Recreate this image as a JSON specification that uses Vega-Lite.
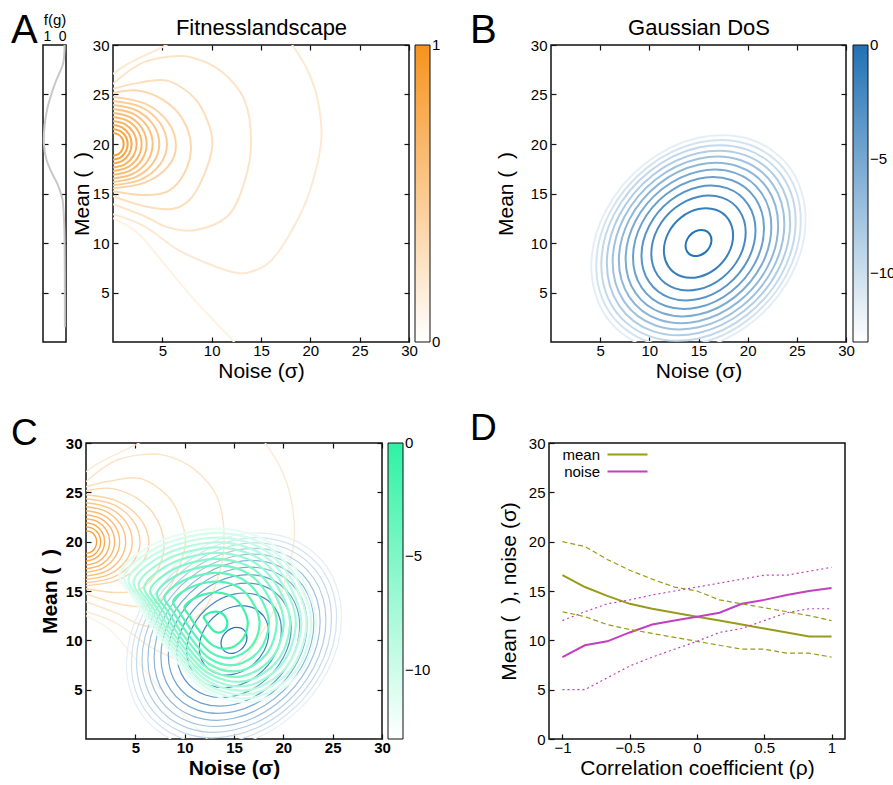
{
"$schema": "https://vega.github.io/schema/vega-lite/v6.json",
"background": "white",
"padding": {"left": 10, "top": 10, "right": 0, "bottom": 0},
"config": {
 "font": "Liberation Sans",
 "view": {"stroke": "#111", "strokeWidth": 1.5},
 "axis": {"grid": false, "domain": false, "tickColor": "#111", "tickSize": -5, "tickWidth": 1.2, "labelFontSize": 15, "labelColor": "#000", "labelPadding": 9, "labelFlush": false, "labelOverlap": false, "titleFontSize": 21, "titleFontWeight": "normal", "titleColor": "#000", "titlePadding": 4},
 "axisX": {"labelPadding": 6, "titlePadding": 2},
 "legend": {"gradientLength": 297, "gradientThickness": 15, "gradientStrokeColor": "#111", "gradientStrokeWidth": 1, "labelFontSize": 15, "labelColor": "#000", "labelOffset": 3, "offset": 5},
 "title": {"fontSize": 40, "fontWeight": "normal", "anchor": "start", "frame": "group", "baseline": "alphabetic", "offset": 0, "color": "#000"}
},
"datasets": {
 "fg": [{"g":1.5,"f":0.05},{"g":5,"f":0.05},{"g":10,"f":0.06},{"g":12,"f":0.08},{"g":13,"f":0.1},{"g":14,"f":0.13},{"g":14.6,"f":0.17},{"g":15.9,"f":0.36},{"g":17.2,"f":0.64},{"g":18.5,"f":0.86},{"g":20,"f":0.96},{"g":21.9,"f":0.93},{"g":23.6,"f":0.81},{"g":25,"f":0.64},{"g":26.4,"f":0.43},{"g":28,"f":0.14},{"g":29,"f":0.08},{"g":30,"f":0.06}],
 "fit": [
  {"c":"a1","l":0.88,"o":0,"s":0,"m":21.11},{"c":"a1","l":0.88,"o":1,"s":0.54,"m":20.96},{"c":"a1","l":0.88,"o":2,"s":0.935,"m":20.56},{"c":"a1","l":0.88,"o":3,"s":1.08,"m":20},{"c":"a1","l":0.88,"o":4,"s":0.935,"m":19.4},{"c":"a1","l":0.88,"o":5,"s":0.54,"m":18.97},{"c":"a1","l":0.88,"o":6,"s":0,"m":18.81},
  {"c":"a2","l":0.83,"o":0,"s":0,"m":21.51},{"c":"a2","l":0.83,"o":1,"s":0.745,"m":21.31},{"c":"a2","l":0.83,"o":2,"s":1.29,"m":20.76},{"c":"a2","l":0.83,"o":3,"s":1.49,"m":20},{"c":"a2","l":0.83,"o":4,"s":1.29,"m":19.21},{"c":"a2","l":0.83,"o":5,"s":0.745,"m":18.62},{"c":"a2","l":0.83,"o":6,"s":0,"m":18.41},
  {"c":"a3","l":0.78,"o":0,"s":0,"m":21.92},{"c":"a3","l":0.78,"o":1,"s":0.945,"m":21.66},{"c":"a3","l":0.78,"o":2,"s":1.637,"m":20.96},{"c":"a3","l":0.78,"o":3,"s":1.89,"m":20},{"c":"a3","l":0.78,"o":4,"s":1.637,"m":19.02},{"c":"a3","l":0.78,"o":5,"s":0.945,"m":18.3},{"c":"a3","l":0.78,"o":6,"s":0,"m":18.04},
  {"c":"a4","l":0.72,"o":0,"s":0,"m":22.32},{"c":"a4","l":0.72,"o":1,"s":1.2,"m":22.01},{"c":"a4","l":0.72,"o":2,"s":2.078,"m":21.16},{"c":"a4","l":0.72,"o":3,"s":2.4,"m":20},{"c":"a4","l":0.72,"o":4,"s":2.078,"m":18.82},{"c":"a4","l":0.72,"o":5,"s":1.2,"m":17.95},{"c":"a4","l":0.72,"o":6,"s":0,"m":17.63},
  {"c":"a5","l":0.67,"o":0,"s":0,"m":22.73},{"c":"a5","l":0.67,"o":1,"s":1.45,"m":22.36},{"c":"a5","l":0.67,"o":2,"s":2.511,"m":21.37},{"c":"a5","l":0.67,"o":3,"s":2.9,"m":20},{"c":"a5","l":0.67,"o":4,"s":2.511,"m":18.63},{"c":"a5","l":0.67,"o":5,"s":1.45,"m":17.63},{"c":"a5","l":0.67,"o":6,"s":0,"m":17.26},
  {"c":"a6","l":0.62,"o":0,"s":0,"m":23.13},{"c":"a6","l":0.62,"o":1,"s":1.705,"m":22.71},{"c":"a6","l":0.62,"o":2,"s":2.953,"m":21.57},{"c":"a6","l":0.62,"o":3,"s":3.41,"m":20},{"c":"a6","l":0.62,"o":4,"s":2.953,"m":18.45},{"c":"a6","l":0.62,"o":5,"s":1.705,"m":17.31},{"c":"a6","l":0.62,"o":6,"s":0,"m":16.89},
  {"c":"a7","l":0.57,"o":0,"s":0,"m":23.54},{"c":"a7","l":0.57,"o":1,"s":2.01,"m":23.07},{"c":"a7","l":0.57,"o":2,"s":3.481,"m":21.77},{"c":"a7","l":0.57,"o":3,"s":4.02,"m":20},{"c":"a7","l":0.57,"o":4,"s":3.481,"m":18.26},{"c":"a7","l":0.57,"o":5,"s":2.01,"m":16.98},{"c":"a7","l":0.57,"o":6,"s":0,"m":16.51},
  {"c":"a8","l":0.51,"o":0,"s":0,"m":23.94},{"c":"a8","l":0.51,"o":1,"s":2.345,"m":23.41},{"c":"a8","l":0.51,"o":2,"s":4.062,"m":21.97},{"c":"a8","l":0.51,"o":3,"s":4.69,"m":20},{"c":"a8","l":0.51,"o":4,"s":4.062,"m":18.09},{"c":"a8","l":0.51,"o":5,"s":2.345,"m":16.68},{"c":"a8","l":0.51,"o":6,"s":0,"m":16.17},
  {"c":"a9","l":0.46,"o":0,"s":0,"m":24.35},{"c":"a9","l":0.46,"o":1,"s":2.735,"m":23.77},{"c":"a9","l":0.46,"o":2,"s":4.737,"m":22.17},{"c":"a9","l":0.46,"o":3,"s":5.47,"m":19.95},{"c":"a9","l":0.46,"o":4,"s":4.737,"m":17.9},{"c":"a9","l":0.46,"o":5,"s":2.735,"m":16.38},{"c":"a9","l":0.46,"o":6,"s":0,"m":15.84},
  {"c":"a10","l":0.41,"o":0,"s":0,"m":24.76},{"c":"a10","l":0.41,"o":1,"s":3.19,"m":24.1},{"c":"a10","l":0.41,"o":2,"s":5.525,"m":22.28},{"c":"a10","l":0.41,"o":3,"s":6.38,"m":19.8},{"c":"a10","l":0.41,"o":4,"s":5.525,"m":17.67},{"c":"a10","l":0.41,"o":5,"s":3.19,"m":16.1},{"c":"a10","l":0.41,"o":6,"s":0,"m":15.53},
  {"c":"a11","l":0.36,"o":0,"s":0,"m":25.16},{"c":"a11","l":0.36,"o":1,"s":2.5,"m":25.4},{"c":"a11","l":0.36,"o":2,"s":5.0,"m":24.5},{"c":"a11","l":0.36,"o":3,"s":7.0,"m":22.6},{"c":"a11","l":0.36,"o":4,"s":7.9,"m":19.8},{"c":"a11","l":0.36,"o":5,"s":7.2,"m":17.0},{"c":"a11","l":0.36,"o":6,"s":5.5,"m":15.2},{"c":"a11","l":0.36,"o":7,"s":3.0,"m":14.85},{"c":"a11","l":0.36,"o":8,"s":0,"m":15.23},
  {"c":"a12","l":0.30,"o":0,"s":0,"m":25.57},{"c":"a12","l":0.30,"o":1,"s":2.5,"m":26.15},{"c":"a12","l":0.30,"o":2,"s":5.5,"m":26.4},{"c":"a12","l":0.30,"o":3,"s":8.3,"m":24.6},{"c":"a12","l":0.30,"o":4,"s":9.7,"m":22.0},{"c":"a12","l":0.30,"o":5,"s":10.05,"m":19.7},{"c":"a12","l":0.30,"o":6,"s":9.2,"m":16.8},{"c":"a12","l":0.30,"o":7,"s":7.8,"m":14.4},{"c":"a12","l":0.30,"o":8,"s":6.0,"m":13.44},{"c":"a12","l":0.30,"o":9,"s":3.2,"m":13.71},{"c":"a12","l":0.30,"o":10,"s":0,"m":14.72},
  {"c":"a13","l":0.25,"o":0,"s":0,"m":26.07},{"c":"a13","l":0.25,"o":1,"s":1.5,"m":27.3},{"c":"a13","l":0.25,"o":2,"s":3.2,"m":28.3},{"c":"a13","l":0.25,"o":3,"s":5.5,"m":28.8},{"c":"a13","l":0.25,"o":4,"s":7.9,"m":28.77},{"c":"a13","l":0.25,"o":5,"s":10.9,"m":27.4},{"c":"a13","l":0.25,"o":6,"s":13.3,"m":24.5},{"c":"a13","l":0.25,"o":7,"s":14.0,"m":20.2},{"c":"a13","l":0.25,"o":8,"s":13.3,"m":16.07},{"c":"a13","l":0.25,"o":9,"s":11.6,"m":12.7},{"c":"a13","l":0.25,"o":10,"s":8.24,"m":11.28},{"c":"a13","l":0.25,"o":11,"s":5.5,"m":11.6},{"c":"a13","l":0.25,"o":12,"s":3.2,"m":12.7},{"c":"a13","l":0.25,"o":13,"s":0,"m":13.91},
  {"c":"a14","l":0.20,"o":0,"s":0,"m":12.9},{"c":"a14","l":0.20,"o":1,"s":3.2,"m":11.68},{"c":"a14","l":0.20,"o":2,"s":6.55,"m":9.32},{"c":"a14","l":0.20,"o":3,"s":9.9,"m":7.8},{"c":"a14","l":0.20,"o":4,"s":12.6,"m":6.96},{"c":"a14","l":0.20,"o":5,"s":14.3,"m":7.2},{"c":"a14","l":0.20,"o":6,"s":16.1,"m":8.3},{"c":"a14","l":0.20,"o":7,"s":18.2,"m":11.4},{"c":"a14","l":0.20,"o":8,"s":19.9,"m":15.1},{"c":"a14","l":0.20,"o":9,"s":21.1,"m":20.2},{"c":"a14","l":0.20,"o":10,"s":20.8,"m":24.2},{"c":"a14","l":0.20,"o":11,"s":19.8,"m":27.3},{"c":"a14","l":0.20,"o":12,"s":18.2,"m":29.96},{"c":"a14","l":0.20,"o":13,"s":17.3,"m":31},
  {"c":"a14b","l":0.20,"o":0,"s":0,"m":27.08},{"c":"a14b","l":0.20,"o":1,"s":1.0,"m":27.8},{"c":"a14b","l":0.20,"o":2,"s":2.5,"m":28.6},{"c":"a14b","l":0.20,"o":3,"s":4.0,"m":29.3},{"c":"a14b","l":0.20,"o":4,"s":5.4,"m":30},{"c":"a14b","l":0.20,"o":5,"s":6.2,"m":30.5},
  {"c":"a15","l":0.12,"o":0,"s":0,"m":12.5},{"c":"a15","l":0.12,"o":1,"s":2.5,"m":11.0},{"c":"a15","l":0.12,"o":2,"s":4.86,"m":8.3},{"c":"a15","l":0.12,"o":3,"s":8.24,"m":4.25},{"c":"a15","l":0.12,"o":4,"s":11.95,"m":0.37},{"c":"a15","l":0.12,"o":5,"s":12.4,"m":-0.3}
 ],
 "dos": [
  {"c":0,"l":-0.2,"o":0,"s":16.32,"m":10.29},{"c":0,"l":-0.2,"o":1,"s":16.14,"m":10.9},{"c":0,"l":-0.2,"o":2,"s":15.66,"m":11.26},{"c":0,"l":-0.2,"o":3,"s":15,"m":11.29},{"c":0,"l":-0.2,"o":4,"s":14.34,"m":10.97},{"c":0,"l":-0.2,"o":5,"s":13.86,"m":10.39},{"c":0,"l":-0.2,"o":6,"s":13.68,"m":9.71},{"c":0,"l":-0.2,"o":7,"s":13.86,"m":9.1},{"c":0,"l":-0.2,"o":8,"s":14.34,"m":8.74},{"c":0,"l":-0.2,"o":9,"s":15,"m":8.71},{"c":0,"l":-0.2,"o":10,"s":15.66,"m":9.03},{"c":0,"l":-0.2,"o":11,"s":16.14,"m":9.61},
  {"c":1,"l":-1.23,"o":0,"s":18.52,"m":10.77},{"c":1,"l":-1.23,"o":1,"s":18.05,"m":12.39},{"c":1,"l":-1.23,"o":2,"s":16.76,"m":13.36},{"c":1,"l":-1.23,"o":3,"s":15,"m":13.43},{"c":1,"l":-1.23,"o":4,"s":13.24,"m":12.59},{"c":1,"l":-1.23,"o":5,"s":11.95,"m":11.05},{"c":1,"l":-1.23,"o":6,"s":11.48,"m":9.23},{"c":1,"l":-1.23,"o":7,"s":11.95,"m":7.61},{"c":1,"l":-1.23,"o":8,"s":13.24,"m":6.64},{"c":1,"l":-1.23,"o":9,"s":15,"m":6.57},{"c":1,"l":-1.23,"o":10,"s":16.76,"m":7.41},{"c":1,"l":-1.23,"o":11,"s":18.05,"m":8.95},
  {"c":2,"l":-2.26,"o":0,"s":19.8,"m":11.06},{"c":2,"l":-2.26,"o":1,"s":19.16,"m":13.26},{"c":2,"l":-2.26,"o":2,"s":17.4,"m":14.58},{"c":2,"l":-2.26,"o":3,"s":15,"m":14.68},{"c":2,"l":-2.26,"o":4,"s":12.6,"m":13.53},{"c":2,"l":-2.26,"o":5,"s":10.84,"m":11.43},{"c":2,"l":-2.26,"o":6,"s":10.2,"m":8.94},{"c":2,"l":-2.26,"o":7,"s":10.84,"m":6.74},{"c":2,"l":-2.26,"o":8,"s":12.6,"m":5.42},{"c":2,"l":-2.26,"o":9,"s":15,"m":5.32},{"c":2,"l":-2.26,"o":10,"s":17.4,"m":6.47},{"c":2,"l":-2.26,"o":11,"s":19.16,"m":8.57},
  {"c":3,"l":-3.29,"o":0,"s":20.8,"m":11.28},{"c":3,"l":-3.29,"o":1,"s":20.02,"m":13.93},{"c":3,"l":-3.29,"o":2,"s":17.9,"m":15.54},{"c":3,"l":-3.29,"o":3,"s":15,"m":15.66},{"c":3,"l":-3.29,"o":4,"s":12.1,"m":14.26},{"c":3,"l":-3.29,"o":5,"s":9.98,"m":11.72},{"c":3,"l":-3.29,"o":6,"s":9.2,"m":8.72},{"c":3,"l":-3.29,"o":7,"s":9.98,"m":6.07},{"c":3,"l":-3.29,"o":8,"s":12.1,"m":4.46},{"c":3,"l":-3.29,"o":9,"s":15,"m":4.34},{"c":3,"l":-3.29,"o":10,"s":17.9,"m":5.74},{"c":3,"l":-3.29,"o":11,"s":20.02,"m":8.28},
  {"c":4,"l":-4.32,"o":0,"s":21.66,"m":11.47},{"c":4,"l":-4.32,"o":1,"s":20.77,"m":14.52},{"c":4,"l":-4.32,"o":2,"s":18.33,"m":16.36},{"c":4,"l":-4.32,"o":3,"s":15,"m":16.5},{"c":4,"l":-4.32,"o":4,"s":11.67,"m":14.89},{"c":4,"l":-4.32,"o":5,"s":9.23,"m":11.98},{"c":4,"l":-4.32,"o":6,"s":8.34,"m":8.53},{"c":4,"l":-4.32,"o":7,"s":9.23,"m":5.48},{"c":4,"l":-4.32,"o":8,"s":11.67,"m":3.64},{"c":4,"l":-4.32,"o":9,"s":15,"m":3.5},{"c":4,"l":-4.32,"o":10,"s":18.33,"m":5.11},{"c":4,"l":-4.32,"o":11,"s":20.77,"m":8.02},
  {"c":5,"l":-5.35,"o":0,"s":22.41,"m":11.63},{"c":5,"l":-5.35,"o":1,"s":21.42,"m":15.03},{"c":5,"l":-5.35,"o":2,"s":18.71,"m":17.08},{"c":5,"l":-5.35,"o":3,"s":15,"m":17.23},{"c":5,"l":-5.35,"o":4,"s":11.3,"m":15.45},{"c":5,"l":-5.35,"o":5,"s":8.58,"m":12.2},{"c":5,"l":-5.35,"o":6,"s":7.59,"m":8.37},{"c":5,"l":-5.35,"o":7,"s":8.58,"m":4.97},{"c":5,"l":-5.35,"o":8,"s":11.3,"m":2.93},{"c":5,"l":-5.35,"o":9,"s":15,"m":2.77},{"c":5,"l":-5.35,"o":10,"s":18.71,"m":4.56},{"c":5,"l":-5.35,"o":11,"s":21.42,"m":7.8},
  {"c":6,"l":-6.38,"o":0,"s":23.1,"m":11.78},{"c":6,"l":-6.38,"o":1,"s":22.02,"m":15.49},{"c":6,"l":-6.38,"o":2,"s":19.05,"m":17.73},{"c":6,"l":-6.38,"o":3,"s":15,"m":17.9},{"c":6,"l":-6.38,"o":4,"s":10.95,"m":15.95},{"c":6,"l":-6.38,"o":5,"s":7.99,"m":12.41},{"c":6,"l":-6.38,"o":6,"s":6.9,"m":8.22},{"c":6,"l":-6.38,"o":7,"s":7.99,"m":4.51},{"c":6,"l":-6.38,"o":8,"s":10.95,"m":2.27},{"c":6,"l":-6.38,"o":9,"s":15,"m":2.1},{"c":6,"l":-6.38,"o":10,"s":19.05,"m":4.05},{"c":6,"l":-6.38,"o":11,"s":22.02,"m":7.59},
  {"c":7,"l":-7.41,"o":0,"s":23.73,"m":11.92},{"c":7,"l":-7.41,"o":1,"s":22.56,"m":15.92},{"c":7,"l":-7.41,"o":2,"s":19.37,"m":18.34},{"c":7,"l":-7.41,"o":3,"s":15,"m":18.52},{"c":7,"l":-7.41,"o":4,"s":10.64,"m":16.42},{"c":7,"l":-7.41,"o":5,"s":7.44,"m":12.6},{"c":7,"l":-7.41,"o":6,"s":6.27,"m":8.08},{"c":7,"l":-7.41,"o":7,"s":7.44,"m":4.08},{"c":7,"l":-7.41,"o":8,"s":10.64,"m":1.67},{"c":7,"l":-7.41,"o":9,"s":15,"m":1.48},{"c":7,"l":-7.41,"o":10,"s":19.37,"m":3.59},{"c":7,"l":-7.41,"o":11,"s":22.56,"m":7.41},
  {"c":8,"l":-8.44,"o":0,"s":24.32,"m":12.05},{"c":8,"l":-8.44,"o":1,"s":23.07,"m":16.32},{"c":8,"l":-8.44,"o":2,"s":19.66,"m":18.9},{"c":8,"l":-8.44,"o":3,"s":15,"m":19.09},{"c":8,"l":-8.44,"o":4,"s":10.34,"m":16.85},{"c":8,"l":-8.44,"o":5,"s":6.93,"m":12.77},{"c":8,"l":-8.44,"o":6,"s":5.68,"m":7.95},{"c":8,"l":-8.44,"o":7,"s":6.93,"m":3.68},{"c":8,"l":-8.44,"o":8,"s":10.34,"m":1.1},{"c":8,"l":-8.44,"o":9,"s":15,"m":0.91},{"c":8,"l":-8.44,"o":10,"s":19.66,"m":3.15},{"c":8,"l":-8.44,"o":11,"s":23.07,"m":7.23},
  {"c":9,"l":-9.47,"o":0,"s":24.88,"m":12.17},{"c":9,"l":-9.47,"o":1,"s":23.56,"m":16.7},{"c":9,"l":-9.47,"o":2,"s":19.94,"m":19.43},{"c":9,"l":-9.47,"o":3,"s":15,"m":19.64},{"c":9,"l":-9.47,"o":4,"s":10.06,"m":17.26},{"c":9,"l":-9.47,"o":5,"s":6.44,"m":12.94},{"c":9,"l":-9.47,"o":6,"s":5.12,"m":7.83},{"c":9,"l":-9.47,"o":7,"s":6.44,"m":3.3},{"c":9,"l":-9.47,"o":8,"s":10.06,"m":0.57},{"c":9,"l":-9.47,"o":9,"s":15,"m":0.36},{"c":9,"l":-9.47,"o":10,"s":19.94,"m":2.74},{"c":9,"l":-9.47,"o":11,"s":23.56,"m":7.06},
  {"c":10,"l":-10.5,"o":0,"s":25.4,"m":12.29},{"c":10,"l":-10.5,"o":1,"s":24.01,"m":17.05},{"c":10,"l":-10.5,"o":2,"s":20.2,"m":19.93},{"c":10,"l":-10.5,"o":3,"s":15,"m":20.15},{"c":10,"l":-10.5,"o":4,"s":9.8,"m":17.64},{"c":10,"l":-10.5,"o":5,"s":5.99,"m":13.09},{"c":10,"l":-10.5,"o":6,"s":4.6,"m":7.71},{"c":10,"l":-10.5,"o":7,"s":5.99,"m":2.95},{"c":10,"l":-10.5,"o":8,"s":9.8,"m":0.07},{"c":10,"l":-10.5,"o":9,"s":15,"m":-0.15},{"c":10,"l":-10.5,"o":10,"s":20.2,"m":2.36},{"c":10,"l":-10.5,"o":11,"s":24.01,"m":6.91},
  {"c":11,"l":-11.53,"o":0,"s":25.9,"m":12.4},{"c":11,"l":-11.53,"o":1,"s":24.44,"m":17.39},{"c":11,"l":-11.53,"o":2,"s":20.45,"m":20.41},{"c":11,"l":-11.53,"o":3,"s":15,"m":20.63},{"c":11,"l":-11.53,"o":4,"s":9.55,"m":18.01},{"c":11,"l":-11.53,"o":5,"s":5.56,"m":13.24},{"c":11,"l":-11.53,"o":6,"s":4.1,"m":7.6},{"c":11,"l":-11.53,"o":7,"s":5.56,"m":2.61},{"c":11,"l":-11.53,"o":8,"s":9.55,"m":-0.41},{"c":11,"l":-11.53,"o":9,"s":15,"m":-0.63},{"c":11,"l":-11.53,"o":10,"s":20.45,"m":1.99},{"c":11,"l":-11.53,"o":11,"s":24.44,"m":6.76}
 ],
 "post": [
  {"c":0,"l":-0.2,"o":0,"s":14.33,"m":11.72},{"c":0,"l":-0.2,"o":1,"s":14.18,"m":12.26},{"c":0,"l":-0.2,"o":2,"s":13.79,"m":12.72},{"c":0,"l":-0.2,"o":3,"s":13.21,"m":12.91},{"c":0,"l":-0.2,"o":4,"s":12.6,"m":12.82},{"c":0,"l":-0.2,"o":5,"s":12.16,"m":12.6},{"c":0,"l":-0.2,"o":6,"s":11.93,"m":12.34},{"c":0,"l":-0.2,"o":7,"s":12.12,"m":12.02},{"c":0,"l":-0.2,"o":8,"s":12.48,"m":11.48},{"c":0,"l":-0.2,"o":9,"s":12.97,"m":10.93},{"c":0,"l":-0.2,"o":10,"s":13.57,"m":10.79},{"c":0,"l":-0.2,"o":11,"s":14.12,"m":11.12},
  {"c":1,"l":-1.23,"o":0,"s":16.4,"m":11.67},{"c":1,"l":-1.23,"o":1,"s":15.97,"m":13.12},{"c":1,"l":-1.23,"o":2,"s":14.94,"m":14.35},{"c":1,"l":-1.23,"o":3,"s":13.39,"m":14.84},{"c":1,"l":-1.23,"o":4,"s":11.78,"m":14.61},{"c":1,"l":-1.23,"o":5,"s":10.58,"m":14.03},{"c":1,"l":-1.23,"o":6,"s":9.97,"m":13.32},{"c":1,"l":-1.23,"o":7,"s":10.48,"m":12.48},{"c":1,"l":-1.23,"o":8,"s":11.45,"m":11.02},{"c":1,"l":-1.23,"o":9,"s":12.74,"m":9.57},{"c":1,"l":-1.23,"o":10,"s":14.36,"m":9.18},{"c":1,"l":-1.23,"o":11,"s":15.81,"m":10.05},
  {"c":2,"l":-2.26,"o":0,"s":17.59,"m":11.64},{"c":2,"l":-2.26,"o":1,"s":17.02,"m":13.62},{"c":2,"l":-2.26,"o":2,"s":15.61,"m":15.29},{"c":2,"l":-2.26,"o":3,"s":13.5,"m":15.95},{"c":2,"l":-2.26,"o":4,"s":11.3,"m":15.64},{"c":2,"l":-2.26,"o":5,"s":9.67,"m":14.85},{"c":2,"l":-2.26,"o":6,"s":8.83,"m":13.88},{"c":2,"l":-2.26,"o":7,"s":9.54,"m":12.74},{"c":2,"l":-2.26,"o":8,"s":10.86,"m":10.76},{"c":2,"l":-2.26,"o":9,"s":12.62,"m":8.78},{"c":2,"l":-2.26,"o":10,"s":14.82,"m":8.25},{"c":2,"l":-2.26,"o":11,"s":16.8,"m":9.44},
  {"c":3,"l":-3.29,"o":0,"s":18.53,"m":11.62},{"c":3,"l":-3.29,"o":1,"s":17.84,"m":14.01},{"c":3,"l":-3.29,"o":2,"s":16.13,"m":16.03},{"c":3,"l":-3.29,"o":3,"s":13.58,"m":16.83},{"c":3,"l":-3.29,"o":4,"s":10.92,"m":16.46},{"c":3,"l":-3.29,"o":5,"s":8.95,"m":15.5},{"c":3,"l":-3.29,"o":6,"s":7.94,"m":14.33},{"c":3,"l":-3.29,"o":7,"s":8.79,"m":12.95},{"c":3,"l":-3.29,"o":8,"s":10.39,"m":10.55},{"c":3,"l":-3.29,"o":9,"s":12.52,"m":8.16},{"c":3,"l":-3.29,"o":10,"s":15.18,"m":7.52},{"c":3,"l":-3.29,"o":11,"s":17.57,"m":8.96},
  {"c":4,"l":-4.32,"o":0,"s":19.33,"m":11.6},{"c":4,"l":-4.32,"o":1,"s":18.54,"m":14.35},{"c":4,"l":-4.32,"o":2,"s":16.58,"m":16.67},{"c":4,"l":-4.32,"o":3,"s":13.65,"m":17.59},{"c":4,"l":-4.32,"o":4,"s":10.6,"m":17.16},{"c":4,"l":-4.32,"o":5,"s":8.33,"m":16.06},{"c":4,"l":-4.32,"o":6,"s":7.17,"m":14.71},{"c":4,"l":-4.32,"o":7,"s":8.15,"m":13.13},{"c":4,"l":-4.32,"o":8,"s":9.98,"m":10.38},{"c":4,"l":-4.32,"o":9,"s":12.43,"m":7.63},{"c":4,"l":-4.32,"o":10,"s":15.48,"m":6.89},{"c":4,"l":-4.32,"o":11,"s":18.23,"m":8.54},
  {"c":5,"l":-5.35,"o":0,"s":20.04,"m":11.58},{"c":5,"l":-5.35,"o":1,"s":19.15,"m":14.64},{"c":5,"l":-5.35,"o":2,"s":16.98,"m":17.22},{"c":5,"l":-5.35,"o":3,"s":13.71,"m":18.24},{"c":5,"l":-5.35,"o":4,"s":10.31,"m":17.77},{"c":5,"l":-5.35,"o":5,"s":7.8,"m":16.54},{"c":5,"l":-5.35,"o":6,"s":6.5,"m":15.05},{"c":5,"l":-5.35,"o":7,"s":7.59,"m":13.28},{"c":5,"l":-5.35,"o":8,"s":9.63,"m":10.22},{"c":5,"l":-5.35,"o":9,"s":12.35,"m":7.16},{"c":5,"l":-5.35,"o":10,"s":15.75,"m":6.34},{"c":5,"l":-5.35,"o":11,"s":18.81,"m":8.18},
  {"c":6,"l":-6.38,"o":0,"s":20.68,"m":11.56},{"c":6,"l":-6.38,"o":1,"s":19.71,"m":14.91},{"c":6,"l":-6.38,"o":2,"s":17.34,"m":17.73},{"c":6,"l":-6.38,"o":3,"s":13.77,"m":18.85},{"c":6,"l":-6.38,"o":4,"s":10.05,"m":18.33},{"c":6,"l":-6.38,"o":5,"s":7.31,"m":16.99},{"c":6,"l":-6.38,"o":6,"s":5.89,"m":15.35},{"c":6,"l":-6.38,"o":7,"s":7.08,"m":13.42},{"c":6,"l":-6.38,"o":8,"s":9.31,"m":10.08},{"c":6,"l":-6.38,"o":9,"s":12.28,"m":6.74},{"c":6,"l":-6.38,"o":10,"s":16.0,"m":5.84},{"c":6,"l":-6.38,"o":11,"s":19.34,"m":7.85},
  {"c":7,"l":-7.41,"o":0,"s":21.27,"m":11.55},{"c":7,"l":-7.41,"o":1,"s":20.23,"m":15.15},{"c":7,"l":-7.41,"o":2,"s":17.67,"m":18.2},{"c":7,"l":-7.41,"o":3,"s":13.82,"m":19.4},{"c":7,"l":-7.41,"o":4,"s":9.82,"m":18.84},{"c":7,"l":-7.41,"o":5,"s":6.85,"m":17.4},{"c":7,"l":-7.41,"o":6,"s":5.33,"m":15.64},{"c":7,"l":-7.41,"o":7,"s":6.61,"m":13.55},{"c":7,"l":-7.41,"o":8,"s":9.02,"m":9.95},{"c":7,"l":-7.41,"o":9,"s":12.22,"m":6.34},{"c":7,"l":-7.41,"o":10,"s":16.22,"m":5.38},{"c":7,"l":-7.41,"o":11,"s":19.83,"m":7.55},
  {"c":8,"l":-8.44,"o":0,"s":21.82,"m":11.54},{"c":8,"l":-8.44,"o":1,"s":20.71,"m":15.38},{"c":8,"l":-8.44,"o":2,"s":17.97,"m":18.63},{"c":8,"l":-8.44,"o":3,"s":13.87,"m":19.92},{"c":8,"l":-8.44,"o":4,"s":9.59,"m":19.32},{"c":8,"l":-8.44,"o":5,"s":6.43,"m":17.78},{"c":8,"l":-8.44,"o":6,"s":4.81,"m":15.9},{"c":8,"l":-8.44,"o":7,"s":6.17,"m":13.67},{"c":8,"l":-8.44,"o":8,"s":8.74,"m":9.83},{"c":8,"l":-8.44,"o":9,"s":12.16,"m":5.98},{"c":8,"l":-8.44,"o":10,"s":16.44,"m":4.95},{"c":8,"l":-8.44,"o":11,"s":20.28,"m":7.26},
  {"c":9,"l":-9.47,"o":0,"s":22.34,"m":11.52},{"c":9,"l":-9.47,"o":1,"s":21.16,"m":15.6},{"c":9,"l":-9.47,"o":2,"s":18.26,"m":19.04},{"c":9,"l":-9.47,"o":3,"s":13.92,"m":20.4},{"c":9,"l":-9.47,"o":4,"s":9.39,"m":19.77},{"c":9,"l":-9.47,"o":5,"s":6.03,"m":18.14},{"c":9,"l":-9.47,"o":6,"s":4.31,"m":16.14},{"c":9,"l":-9.47,"o":7,"s":5.76,"m":13.79},{"c":9,"l":-9.47,"o":8,"s":8.48,"m":9.71},{"c":9,"l":-9.47,"o":9,"s":12.1,"m":5.63},{"c":9,"l":-9.47,"o":10,"s":16.63,"m":4.55},{"c":9,"l":-9.47,"o":11,"s":20.71,"m":6.99},
  {"c":10,"l":-10.5,"o":0,"s":22.83,"m":11.51},{"c":10,"l":-10.5,"o":1,"s":21.59,"m":15.81},{"c":10,"l":-10.5,"o":2,"s":18.54,"m":19.43},{"c":10,"l":-10.5,"o":3,"s":13.96,"m":20.86},{"c":10,"l":-10.5,"o":4,"s":9.19,"m":20.19},{"c":10,"l":-10.5,"o":5,"s":5.66,"m":18.48},{"c":10,"l":-10.5,"o":6,"s":3.85,"m":16.38},{"c":10,"l":-10.5,"o":7,"s":5.37,"m":13.9},{"c":10,"l":-10.5,"o":8,"s":8.23,"m":9.6},{"c":10,"l":-10.5,"o":9,"s":12.05,"m":5.31},{"c":10,"l":-10.5,"o":10,"s":16.82,"m":4.17},{"c":10,"l":-10.5,"o":11,"s":21.11,"m":6.74},
  {"c":11,"l":-11.53,"o":0,"s":23.3,"m":11.5},{"c":11,"l":-11.53,"o":1,"s":22.0,"m":16.0},{"c":11,"l":-11.53,"o":2,"s":18.8,"m":19.8},{"c":11,"l":-11.53,"o":3,"s":14.0,"m":21.3},{"c":11,"l":-11.53,"o":4,"s":9.0,"m":20.6},{"c":11,"l":-11.53,"o":5,"s":5.3,"m":18.8},{"c":11,"l":-11.53,"o":6,"s":3.4,"m":16.6},{"c":11,"l":-11.53,"o":7,"s":5.0,"m":14.0},{"c":11,"l":-11.53,"o":8,"s":8.0,"m":9.5},{"c":11,"l":-11.53,"o":9,"s":12.0,"m":5.0},{"c":11,"l":-11.53,"o":10,"s":17.0,"m":3.8},{"c":11,"l":-11.53,"o":11,"s":21.5,"m":6.5}
 ],
 "dd": [
  {"r":-1,"v":16.6,"var":"mean","b":"mid"},{"r":-0.833,"v":15.4,"var":"mean","b":"mid"},{"r":-0.667,"v":14.5,"var":"mean","b":"mid"},{"r":-0.5,"v":13.7,"var":"mean","b":"mid"},{"r":-0.333,"v":13.2,"var":"mean","b":"mid"},{"r":-0.167,"v":12.8,"var":"mean","b":"mid"},{"r":0,"v":12.4,"var":"mean","b":"mid"},{"r":0.167,"v":12.0,"var":"mean","b":"mid"},{"r":0.333,"v":11.6,"var":"mean","b":"mid"},{"r":0.5,"v":11.2,"var":"mean","b":"mid"},{"r":0.667,"v":10.8,"var":"mean","b":"mid"},{"r":0.833,"v":10.4,"var":"mean","b":"mid"},{"r":1,"v":10.4,"var":"mean","b":"mid"},
  {"r":-1,"v":20.0,"var":"mean","b":"hi"},{"r":-0.833,"v":19.5,"var":"mean","b":"hi"},{"r":-0.667,"v":18.2,"var":"mean","b":"hi"},{"r":-0.5,"v":17.1,"var":"mean","b":"hi"},{"r":-0.333,"v":16.2,"var":"mean","b":"hi"},{"r":-0.167,"v":15.4,"var":"mean","b":"hi"},{"r":0,"v":15.0,"var":"mean","b":"hi"},{"r":0.167,"v":14.1,"var":"mean","b":"hi"},{"r":0.333,"v":13.7,"var":"mean","b":"hi"},{"r":0.5,"v":13.3,"var":"mean","b":"hi"},{"r":0.667,"v":12.9,"var":"mean","b":"hi"},{"r":0.833,"v":12.5,"var":"mean","b":"hi"},{"r":1,"v":12.0,"var":"mean","b":"hi"},
  {"r":-1,"v":12.9,"var":"mean","b":"lo"},{"r":-0.833,"v":12.4,"var":"mean","b":"lo"},{"r":-0.667,"v":11.6,"var":"mean","b":"lo"},{"r":-0.5,"v":11.1,"var":"mean","b":"lo"},{"r":-0.333,"v":10.7,"var":"mean","b":"lo"},{"r":-0.167,"v":10.3,"var":"mean","b":"lo"},{"r":0,"v":9.9,"var":"mean","b":"lo"},{"r":0.167,"v":9.5,"var":"mean","b":"lo"},{"r":0.333,"v":9.1,"var":"mean","b":"lo"},{"r":0.5,"v":9.1,"var":"mean","b":"lo"},{"r":0.667,"v":8.7,"var":"mean","b":"lo"},{"r":0.833,"v":8.7,"var":"mean","b":"lo"},{"r":1,"v":8.3,"var":"mean","b":"lo"},
  {"r":-1,"v":8.3,"var":"noise","b":"mid"},{"r":-0.833,"v":9.5,"var":"noise","b":"mid"},{"r":-0.667,"v":9.9,"var":"noise","b":"mid"},{"r":-0.5,"v":10.8,"var":"noise","b":"mid"},{"r":-0.333,"v":11.6,"var":"noise","b":"mid"},{"r":-0.167,"v":12.0,"var":"noise","b":"mid"},{"r":0,"v":12.4,"var":"noise","b":"mid"},{"r":0.167,"v":12.8,"var":"noise","b":"mid"},{"r":0.333,"v":13.7,"var":"noise","b":"mid"},{"r":0.5,"v":14.1,"var":"noise","b":"mid"},{"r":0.667,"v":14.6,"var":"noise","b":"mid"},{"r":0.833,"v":15.0,"var":"noise","b":"mid"},{"r":1,"v":15.3,"var":"noise","b":"mid"},
  {"r":-1,"v":12.0,"var":"noise","b":"hi"},{"r":-0.833,"v":12.9,"var":"noise","b":"hi"},{"r":-0.667,"v":13.7,"var":"noise","b":"hi"},{"r":-0.5,"v":14.1,"var":"noise","b":"hi"},{"r":-0.333,"v":14.6,"var":"noise","b":"hi"},{"r":-0.167,"v":15.0,"var":"noise","b":"hi"},{"r":0,"v":15.4,"var":"noise","b":"hi"},{"r":0.167,"v":15.8,"var":"noise","b":"hi"},{"r":0.333,"v":16.2,"var":"noise","b":"hi"},{"r":0.5,"v":16.6,"var":"noise","b":"hi"},{"r":0.667,"v":16.6,"var":"noise","b":"hi"},{"r":0.833,"v":17.0,"var":"noise","b":"hi"},{"r":1,"v":17.4,"var":"noise","b":"hi"},
  {"r":-1,"v":5.0,"var":"noise","b":"lo"},{"r":-0.833,"v":5.0,"var":"noise","b":"lo"},{"r":-0.667,"v":6.2,"var":"noise","b":"lo"},{"r":-0.5,"v":7.4,"var":"noise","b":"lo"},{"r":-0.333,"v":8.3,"var":"noise","b":"lo"},{"r":-0.167,"v":9.1,"var":"noise","b":"lo"},{"r":0,"v":9.9,"var":"noise","b":"lo"},{"r":0.167,"v":10.8,"var":"noise","b":"lo"},{"r":0.333,"v":11.2,"var":"noise","b":"lo"},{"r":0.5,"v":12.0,"var":"noise","b":"lo"},{"r":0.667,"v":12.8,"var":"noise","b":"lo"},{"r":0.833,"v":13.2,"var":"noise","b":"lo"},{"r":1,"v":13.2,"var":"noise","b":"lo"}
 ]
},
"resolve": {"scale": {"stroke": "independent", "color": "independent"}},
"columns": 1,
"align": "none",
"spacing": 27,
"concat": [
 {"spacing": 27, "resolve": {"scale": {"stroke": "independent", "color": "independent"}}, "hconcat": [
  {"spacing": 0, "resolve": {"scale": {"stroke": "independent", "color": "independent"}}, "hconcat": [
   {"width": 23, "height": 297,
    "title": {"text": "A", "dx": -32, "dy": 43},
    "layer": [
     {"data": {"name": "fg"}, "mark": {"type": "line", "interpolate": "cardinal", "color": "#c8c8c8", "strokeWidth": 2},
      "encoding": {
       "x": {"field": "f", "type": "quantitative", "scale": {"domain": [0, 1], "reverse": true, "nice": false}, "axis": {"orient": "top", "values": [0, 1], "format": "d", "ticks": false, "labelFlush": true, "labelPadding": 2, "labelFontSize": 14, "title": "f(g)", "titleFontSize": 15, "titlePadding": 2}},
       "y": {"field": "g", "type": "quantitative", "scale": {"domain": [0, 30], "nice": false}, "axis": {"values": [5, 10, 15, 20, 25], "labels": false, "title": null}},
       "order": {"field": "g", "type": "quantitative"}
      }},
     {"data": {"name": "fg"}, "mark": {"type": "point", "opacity": 0},
      "encoding": {"y": {"field": "g", "type": "quantitative", "scale": {"domain": [0, 30], "nice": false}, "axis": {"orient": "right", "values": [5, 10, 15, 20, 25], "labels": false, "title": null}}}}
    ],
    "resolve": {"scale": {"y": "independent"}}
   },
   {"width": 296, "height": 297,
    "layer": [
     {"data": {"name": "fit"}, "mark": {"type": "line", "interpolate": "cardinal", "strokeWidth": 2, "clip": true},
      "encoding": {
       "x": {"field": "s", "type": "quantitative", "scale": {"domain": [0, 30], "nice": false}, "axis": {"values": [5, 10, 15, 20, 25, 30], "title": "Noise (σ)"}},
       "y": {"field": "m", "type": "quantitative", "scale": {"domain": [0, 30], "nice": false}, "axis": {"values": [5, 10, 15, 20, 25, 30], "title": "Mean (\u00a0\u00a0)", "titlePadding": 0}},
       "detail": {"field": "c", "type": "nominal"},
       "order": {"field": "o", "type": "quantitative"},
       "stroke": {"field": "l", "type": "quantitative", "scale": {"domain": [0, 1], "range": ["#ffffff", "#f7931e"], "interpolate": "rgb"}, "legend": {"values": [0, 1], "format": "d", "title": null, "encode": {"labels": {"update": {"baseline": {"value": "middle"}}}}}}
      }},
     {"data": {"name": "fit"}, "mark": {"type": "point", "opacity": 0, "clip": true},
      "encoding": {
       "x": {"field": "s", "type": "quantitative", "scale": {"domain": [0, 30], "nice": false}, "axis": {"orient": "top", "values": [5, 10, 15, 20, 25, 30], "labels": false, "title": "Fitnesslandscape", "titleFontSize": 22, "titlePadding": 5}},
       "y": {"field": "m", "type": "quantitative", "scale": {"domain": [0, 30], "nice": false}, "axis": {"orient": "right", "values": [5, 10, 15, 20, 25, 30], "labels": false, "title": null}}
      }}
    ],
    "resolve": {"scale": {"x": "independent", "y": "independent"}}
   }
  ]},
  {"width": 295, "height": 297,
   "title": {"text": "B", "dx": -81, "dy": 39},
   "layer": [
    {"data": {"name": "dos"}, "mark": {"type": "line", "interpolate": "cardinal-closed", "strokeWidth": 2, "clip": true},
     "encoding": {
      "x": {"field": "s", "type": "quantitative", "scale": {"domain": [0, 30], "nice": false}, "axis": {"values": [5, 10, 15, 20, 25, 30], "title": "Noise (σ)"}},
      "y": {"field": "m", "type": "quantitative", "scale": {"domain": [0, 30], "nice": false}, "axis": {"values": [5, 10, 15, 20, 25, 30], "title": "Mean (\u00a0\u00a0)", "titlePadding": 14}},
      "detail": {"field": "c", "type": "nominal"},
      "order": {"field": "o", "type": "quantitative"},
      "stroke": {"field": "l", "type": "quantitative", "scale": {"domain": [-13.05, 0], "range": ["#ffffff", "#2171b5"], "interpolate": "rgb"}, "legend": {"values": [-10, -5, 0], "format": "d", "title": null, "offset": 6, "encode": {"labels": {"update": {"baseline": {"value": "middle"}}}}}}
     }},
    {"data": {"name": "dos"}, "mark": {"type": "point", "opacity": 0, "clip": true},
     "encoding": {
      "x": {"field": "s", "type": "quantitative", "scale": {"domain": [0, 30], "nice": false}, "axis": {"orient": "top", "values": [5, 10, 15, 20, 25, 30], "labels": false, "title": "Gaussian DoS", "titleFontSize": 22, "titlePadding": 5}},
      "y": {"field": "m", "type": "quantitative", "scale": {"domain": [0, 30], "nice": false}, "axis": {"orient": "right", "values": [5, 10, 15, 20, 25, 30], "labels": false, "title": null}}
     }}
   ],
   "resolve": {"scale": {"x": "independent", "y": "independent"}}
  }
 ]},
 {"spacing": 37, "resolve": {"scale": {"stroke": "independent", "color": "independent"}}, "hconcat": [
  {"spacing": -6, "resolve": {"scale": {"stroke": "independent", "color": "independent"}}, "hconcat": [
   {"width": 1, "height": 296, "view": {"stroke": null},
    "title": {"text": "C", "dx": -32, "dy": 14, "fontSize": 37},
    "data": {"values": []}, "mark": {"type": "point", "opacity": 0}},
   {"width": 296, "height": 296,
    "layer": [
     {"layer": [
       {"data": {"name": "fit"}, "mark": {"type": "line", "interpolate": "cardinal", "strokeWidth": 1.4, "clip": true},
        "encoding": {
         "x": {"field": "s", "type": "quantitative", "scale": {"domain": [0, 30], "nice": false}, "axis": {"values": [5, 10, 15, 20, 25, 30], "title": "Noise (σ)", "labelFontWeight": "bold", "titleFontWeight": "bold"}},
         "y": {"field": "m", "type": "quantitative", "scale": {"domain": [0, 30], "nice": false}, "axis": {"values": [5, 10, 15, 20, 25, 30], "title": "Mean (\u00a0\u00a0)", "titlePadding": 5, "labelFontWeight": "bold", "titleFontWeight": "bold"}},
         "detail": {"field": "c", "type": "nominal"},
         "order": {"field": "o", "type": "quantitative"},
         "stroke": {"field": "l", "type": "quantitative", "scale": {"domain": [0, 1], "range": ["#ffffff", "#f7931e"], "interpolate": "rgb"}, "legend": null}
        }},
       {"data": {"name": "dos"}, "mark": {"type": "line", "interpolate": "cardinal-closed", "strokeWidth": 1.2, "clip": true},
        "encoding": {
         "x": {"field": "s", "type": "quantitative"},
         "y": {"field": "m", "type": "quantitative"},
         "detail": {"field": "c", "type": "nominal"},
         "order": {"field": "o", "type": "quantitative"},
         "stroke": {"field": "l", "type": "quantitative", "scale": {"domain": [-13.05, 0], "range": ["#ffffff", "#2171b5"], "interpolate": "rgb"}, "legend": null}
        }},
       {"data": {"name": "post"}, "mark": {"type": "line", "interpolate": "cardinal-closed", "strokeWidth": 2.2, "clip": true},
        "encoding": {
         "x": {"field": "s", "type": "quantitative"},
         "y": {"field": "m", "type": "quantitative"},
         "detail": {"field": "c", "type": "nominal"},
         "order": {"field": "o", "type": "quantitative"},
         "stroke": {"field": "l", "type": "quantitative", "scale": {"domain": [-13.05, 0], "range": ["#ffffff", "#2ff2a4"], "interpolate": "rgb"}, "legend": {"values": [-10, -5, 0], "format": "d", "title": null, "gradientLength": 296, "encode": {"labels": {"update": {"baseline": {"value": "middle"}}}}}}
        }}
      ],
      "resolve": {"scale": {"stroke": "independent"}}
     },
     {"data": {"name": "dos"}, "mark": {"type": "point", "opacity": 0, "clip": true},
      "encoding": {
       "x": {"field": "s", "type": "quantitative", "scale": {"domain": [0, 30], "nice": false}, "axis": {"orient": "top", "values": [5, 10, 15, 20, 25, 30], "labels": false, "title": null}},
       "y": {"field": "m", "type": "quantitative", "scale": {"domain": [0, 30], "nice": false}, "axis": {"orient": "right", "values": [5, 10, 15, 20, 25, 30], "labels": false, "title": null}}
      }}
    ],
    "resolve": {"scale": {"x": "independent", "y": "independent", "stroke": "independent"}}
   }
  ]},
  {"width": 296, "height": 296,
   "title": {"text": "D", "dx": -79, "dy": 16, "fontSize": 37},
   "data": {"name": "dd"},
   "encoding": {
    "x": {"field": "r", "type": "quantitative", "scale": {"domain": [-1.1, 1.1], "nice": false, "zero": false}, "axis": {"values": [-1, -0.5, 0, 0.5, 1], "format": "~g", "title": "Correlation coefficient (ρ)"}},
    "y": {"field": "v", "type": "quantitative", "scale": {"domain": [0, 30], "nice": false}, "axis": {"values": [0, 5, 10, 15, 20, 25, 30], "title": "Mean (\u00a0\u00a0), noise (σ)", "titlePadding": 9}}
   },
   "layer": [
    {"transform": [{"filter": "datum.b == 'mid'"}], "mark": {"type": "line", "strokeWidth": 2},
     "encoding": {"color": {"field": "var", "type": "nominal", "scale": {"domain": ["mean", "noise"], "range": ["#9a9a1a", "#c040c0"]},
       "legend": {"title": null, "orient": "none", "legendX": 71, "legendY": 4, "symbolType": "M-4,0H4", "symbolSize": 100, "symbolStrokeWidth": 2, "labelAlign": "right", "labelOffset": -35, "labelFontSize": 15, "rowPadding": 1}}}},
    {"transform": [{"filter": "datum.b != 'mid' && datum.var == 'mean'"}], "mark": {"type": "line", "strokeWidth": 1.2, "strokeDash": [5, 3], "color": "#9a9a1a"},
     "encoding": {"detail": {"field": "b", "type": "nominal"}}},
    {"transform": [{"filter": "datum.b != 'mid' && datum.var == 'noise'"}], "mark": {"type": "line", "strokeWidth": 1.2, "strokeDash": [2, 3], "color": "#c040c0"},
     "encoding": {"detail": {"field": "b", "type": "nominal"}}}
   ]
  }
 ]}
]
}
